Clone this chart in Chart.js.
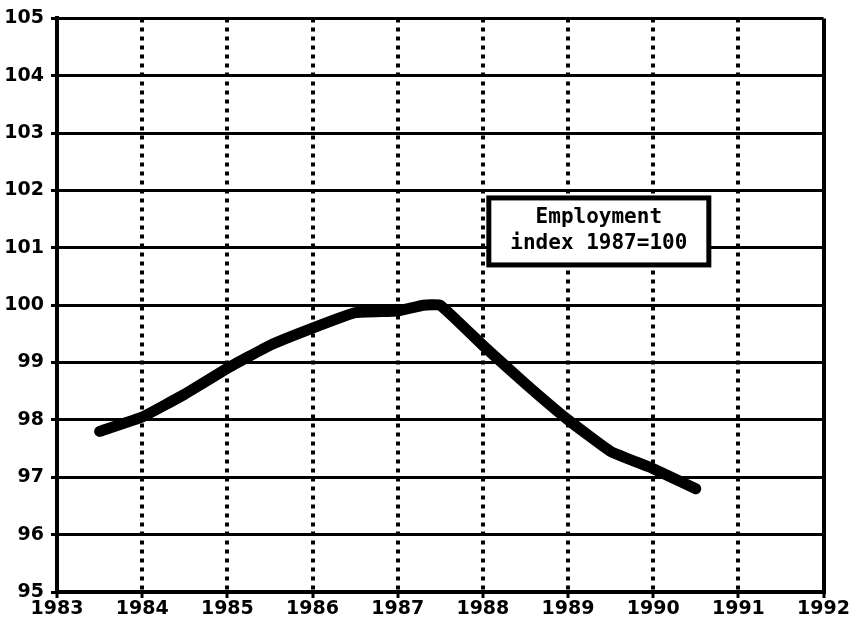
<!DOCTYPE html>
<html>
<head>
<meta charset="utf-8">
<script src="https://cdn.jsdelivr.net/npm/chart.js@4"></script>
<style>
  body { margin: 0; background: #fff; }
  #wrap { width: 850px; height: 633px; position: relative; }
</style>
</head>
<body>
<div id="wrap"><canvas id="employmentChart"></canvas></div>
<script>
// data (half-year points)
const years = [1983.5, 1984, 1984.5, 1985, 1985.5, 1986, 1986.5, 1987, 1987.3, 1987.5, 1988, 1988.5, 1989, 1989.5, 1990, 1990.5];
const index = [97.8, 98.05, 98.45, 98.9, 99.3, 99.6, 99.87, 99.9, 100.0, 100.0, 99.3, 98.63, 98.0, 97.45, 97.15, 96.8];
const legendLines = ["Employment", "index 1987=100"];

const tickFont = { family: "'DejaVu Sans', sans-serif", size: 19, weight: 'bold' };

// white box with the series name, drawn on top of the grid
const legendBox = {
  id: 'legendBox',
  afterDatasetsDraw(chart) {
    const ctx = chart.ctx;
    const x = chart.scales.x.getPixelForValue(1988.07);
    const y = chart.scales.y.getPixelForValue(101.87);
    const w = 220, h = 67;
    ctx.save();
    ctx.fillStyle = '#fff';
    ctx.fillRect(x, y, w, h);
    ctx.lineWidth = 5;
    ctx.strokeStyle = '#000';
    ctx.strokeRect(x, y, w, h);
    ctx.fillStyle = '#000';
    ctx.font = "bold 21px 'DejaVu Sans Mono', monospace";
    ctx.textAlign = 'center';
    ctx.textBaseline = 'middle';
    ctx.fillText(legendLines[0], x + w / 2, y + 20);
    ctx.fillText(legendLines[1], x + w / 2, y + 46);
    ctx.restore();
  }
};

const config = {
  type: 'line',
  data: {
    datasets: [{
      data: years.map((yr, i) => ({ x: yr, y: index[i] })),
      borderColor: '#000',
      borderWidth: 11,
      borderJoinStyle: 'round',
      borderCapStyle: 'round',
      pointRadius: 0,
      tension: 0.1,
      fill: false
    }]
  },
  options: {
    responsive: true,
    maintainAspectRatio: false,
    animation: false,
    layout: { padding: { top: 18, right: 25, left: 0, bottom: 0 } },
    plugins: { legend: { display: false }, tooltip: { enabled: false } },
    scales: {
      x: {
        type: 'linear',
        min: 1983,
        max: 1992,
        afterFit: (scale) => { scale.height = 41; },
        ticks: {
          stepSize: 1,
          color: '#000',
          font: tickFont,
          padding: 0,
          maxRotation: 0,
          callback: (v) => String(v)
        },
        grid: {
          color: '#000',
          lineWidth: 4,
          tickLength: 6,
          tickWidth: 3,
          tickColor: '#000'
        },
        border: {
          color: '#000',
          width: 4,
          dash: (ctx) => (ctx.tick && ctx.tick.value === 1992 ? [] : [4, 5])
        }
      },
      y: {
        min: 95,
        max: 105,
        afterFit: (scale) => { scale.width = 57; },
        ticks: {
          stepSize: 1,
          color: '#000',
          font: tickFont,
          padding: 7
        },
        grid: {
          color: '#000',
          lineWidth: 3,
          tickLength: 6,
          tickWidth: 3,
          tickColor: '#000'
        },
        border: { color: '#000', width: 4 }
      }
    }
  },
  plugins: [legendBox]
};

const employmentChart = new Chart(document.getElementById('employmentChart').getContext('2d'), config);
</script>
</body>
</html>
